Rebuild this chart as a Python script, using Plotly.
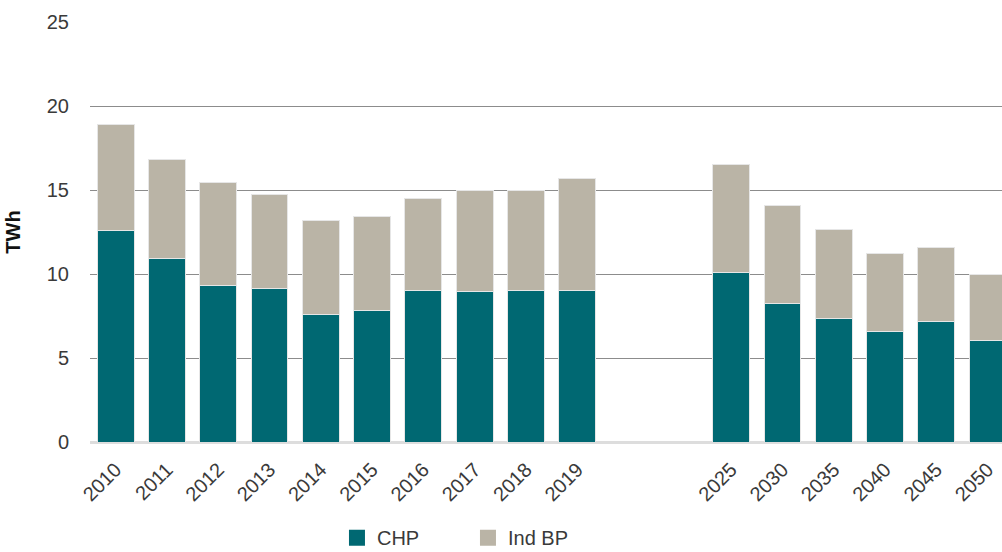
import plotly.graph_objects as go

categories = ["2010", "2011", "2012", "2013", "2014", "2015", "2016", "2017", "2018", "2019",
              " ", "  ", "2025", "2030", "2035", "2040", "2045", "2050"]
chp = [12.56, 10.95, 9.32, 9.12, 7.56, 7.80, 8.99, 8.95, 9.00, 8.99,
       None, None, 10.06, 8.27, 7.38, 6.55, 7.20, 6.03]
total = [18.87, 16.79, 15.42, 14.76, 13.19, 13.40, 14.51, 14.95, 14.99, 15.71,
         None, None, 16.49, 14.05, 12.62, 11.25, 11.57, 9.98]
ind_bp = [None if t is None else round(t - c, 2) for t, c in zip(total, chp)]

FONT = "Liberation Sans"
TXT = "#3a3a3a"
C_CHP = "#006872"
C_IND = "#BAB4A6"

fig = go.Figure()
fig.add_trace(go.Bar(x=categories, y=chp, name="CHP", showlegend=False,
                     marker=dict(color=C_CHP, line=dict(color="#e6e6e6", width=1))))
fig.add_trace(go.Bar(x=categories, y=ind_bp, name="Ind BP", showlegend=False,
                     marker=dict(color=C_IND, line=dict(color="#e6e6e6", width=1))))
# legend proxies (square swatches)
fig.add_trace(go.Scatter(x=[None], y=[None], mode="markers", name="CHP",
                         marker=dict(symbol="square", size=17, color=C_CHP)))
fig.add_trace(go.Scatter(x=[None], y=[None], mode="markers", name="Ind BP",
                         marker=dict(symbol="square", size=17, color=C_IND)))

fig.update_layout(
    width=1002, height=552,
    barmode="stack", bargap=0.28,
    plot_bgcolor="white", paper_bgcolor="white",
    margin=dict(l=90, r=0, t=22, b=110),
    font=dict(family=FONT, size=20, color=TXT),
    xaxis=dict(type="category", categoryorder="array", categoryarray=categories,
               range=[-0.5, 17.28], tickangle=-45, showgrid=False, ticks="",
               ticklabelstandoff=11,
               tickfont=dict(size=20, color=TXT), showline=False, automargin=False),
    yaxis=dict(range=[0, 25], dtick=5, showgrid=True, gridcolor="#8c8c8c", gridwidth=1,
               zeroline=True, zerolinecolor="#dddddd", zerolinewidth=3,
               ticks="", ticklabelstandoff=20, automargin=False,
               title=dict(text="<b>TWh</b>", font=dict(size=20, color="#111111"), standoff=20),
               tickfont=dict(size=20, color=TXT)),
    legend=dict(orientation="h", xref="container", yref="container",
                x=0.3363, xanchor="left", y=0.026, yanchor="middle",
                font=dict(size=20, color=TXT), itemwidth=30, entrywidth=86,
                traceorder="normal"),
)
fig.write_html(
    "out.html",
    config={"displayModeBar": False},
    post_script="document.body.style.margin='0px';document.body.style.overflow='hidden';",
)
